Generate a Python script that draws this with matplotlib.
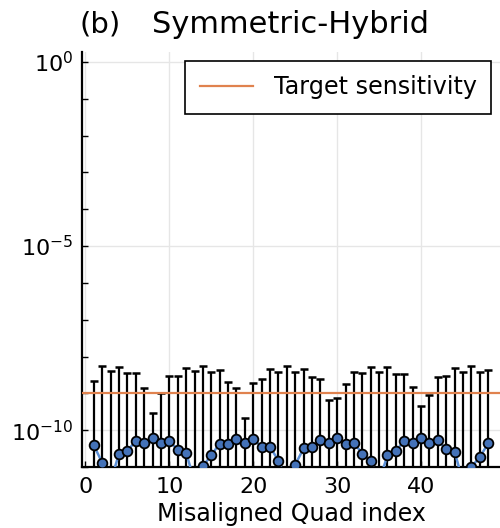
import numpy as np
import matplotlib
matplotlib.use("Agg")
import matplotlib.pyplot as plt
from matplotlib.ticker import FixedLocator, NullFormatter, LogFormatterMathtext

# quad index along the lattice
quad_index = list(range(1, 49))

# mean sensitivity per misaligned quad
sensitivity = [
    3.9e-11, 1.3e-11, 4.0e-12, 2.3e-11, 2.8e-11, 5.0e-11, 4.4e-11, 6.2e-11,
    4.5e-11, 5.1e-11, 2.95e-11, 2.45e-11, 4.0e-12, 1.05e-11, 2.1e-11, 4.3e-11,
    4.2e-11, 5.9e-11, 4.6e-11, 5.6e-11, 3.6e-11, 3.5e-11, 1.5e-11, 4.0e-12,
    1.15e-11, 3.2e-11, 3.4e-11, 5.4e-11, 4.5e-11, 6.3e-11, 4.2e-11, 4.6e-11,
    2.3e-11, 1.45e-11, 4.0e-12, 2.1e-11, 2.8e-11, 5.0e-11, 4.5e-11, 6.3e-11,
    4.5e-11, 5.4e-11, 3.0e-11, 2.6e-11, 4.0e-12, 1.0e-11, 1.85e-11, 4.4e-11,
]

# upper end of the error bar (mean + std)
upper = [
    2.2e-9, 5.4e-9, 4.1e-9, 5.2e-9, 3.5e-9, 3.5e-9, 1.4e-9, 3.0e-10,
    1.0e-9, 2.9e-9, 3.0e-9, 4.9e-9, 4.1e-9, 5.6e-9, 3.8e-9, 4.3e-9,
    2.1e-9, 1.4e-9, 2.2e-10, 1.95e-9, 2.45e-9, 4.6e-9, 3.8e-9, 5.6e-9,
    3.9e-9, 4.7e-9, 2.75e-9, 2.4e-9, 6.6e-10, 7.6e-10, 1.8e-9, 3.7e-9,
    3.5e-9, 5.1e-9, 3.9e-9, 5.1e-9, 3.4e-9, 3.4e-9, 1.5e-9, 4.4e-10,
    9.1e-10, 2.75e-9, 3.0e-9, 4.9e-9, 3.9e-9, 5.4e-9, 3.7e-9, 4.2e-9,
]

target = 1e-9

x = np.array(quad_index)
y = np.array(sensitivity)
std = np.array(upper) - y

fig = plt.figure(figsize=(5.0, 5.28), dpi=100)
ax = fig.add_axes([0.164, 0.1155, 0.836, 0.786])
ax.set_yscale("log")

ax.errorbar(x, y, yerr=std, fmt="none", ecolor="black", elinewidth=1.6,
            capsize=2.8, capthick=1.8, zorder=3)
ax.plot(x, y, color="#5b8fd6", lw=1.8, zorder=4)
ax.plot(x, y, "o", ms=7, mfc="#4472b8", mec="black", mew=1.3, zorder=5)
ax.axhline(target, color="#e0824e", lw=1.6, zorder=6, label="Target sensitivity")

ax.set_xlim(-0.41, 49.41)
ax.set_ylim(1e-11, 10**0.27)

ax.set_xticks([0, 10, 20, 30, 40])
ax.yaxis.set_major_locator(FixedLocator([1e0, 1e-5, 1e-10]))
ax.yaxis.set_major_formatter(LogFormatterMathtext())
ax.yaxis.set_minor_locator(FixedLocator([10.0 ** k for k in range(-11, 1)]))
ax.yaxis.set_minor_formatter(NullFormatter())

ax.grid(True, which="major", color="#e6e6e6", lw=1.0, zorder=0)
ax.set_axisbelow(True)
ax.tick_params(axis="both", which="both", direction="in", length=4, width=1,
               top=False, right=False)
ax.tick_params(axis="x", labelsize=16, pad=7)
ax.tick_params(axis="y", labelsize=16, pad=6)

for side in ["top", "right"]:
    ax.spines[side].set_visible(False)
for side in ["left", "bottom"]:
    ax.spines[side].set_linewidth(1.6)

ax.set_xlabel("Misaligned Quad index", fontsize=17, labelpad=4)
ax.set_title("Symmetric-Hybrid", fontsize=22, pad=14)
fig.text(79 / 500, 1 - 33 / 528, "(b)", fontsize=21, ha="left", va="baseline")

leg = ax.legend(loc="upper right", fontsize=17.2, frameon=True, fancybox=False,
                edgecolor="black", framealpha=1, borderaxespad=0.38,
                borderpad=0.6, handlelength=2.25, handletextpad=0.85)
leg.get_frame().set_linewidth(1.2)

fig.savefig("out.png", dpi=100)
